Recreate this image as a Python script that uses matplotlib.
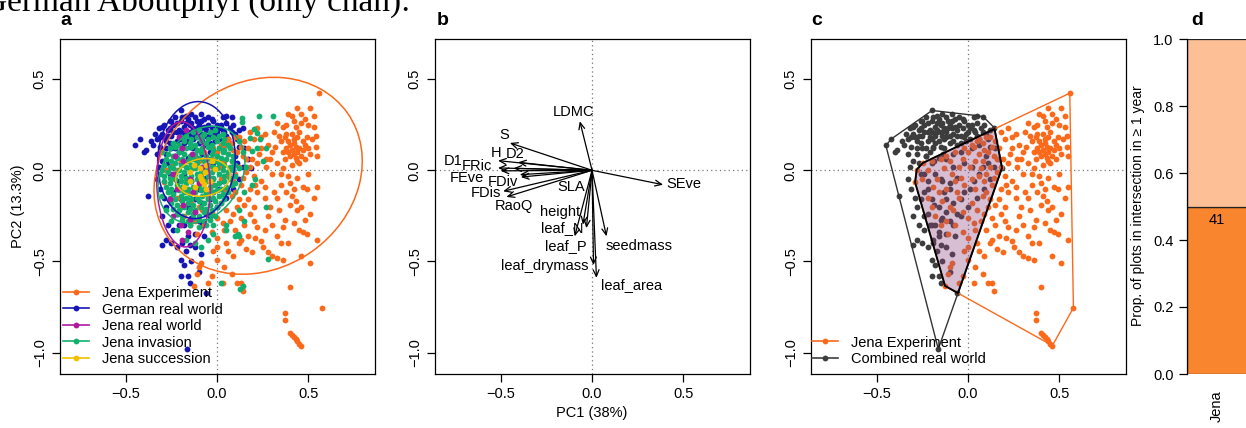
import numpy as np
import matplotlib
matplotlib.use("Agg")
import matplotlib.pyplot as plt
from matplotlib.patches import Ellipse, Polygon
from matplotlib.lines import Line2D

plt.rcParams["font.family"] = ["Liberation Sans", "DejaVu Sans"]
plt.rcParams["font.size"] = 10.5

W, H = 1246, 428

# ---- panel a / c : PCA site scores ----
jena_exp = [
    # right-hand cluster
    (0.557, 0.423), (0.44, 0.34), (0.51, 0.34), (0.39, 0.31), (0.41, 0.30), (0.46, 0.31), (0.53, 0.30), (0.48, 0.28),
    (0.33, 0.26), (0.36, 0.24), (0.43, 0.24), (0.50, 0.25), (0.53, 0.24), (0.31, 0.21), (0.38, 0.20), (0.45, 0.21),
    (0.54, 0.19), (0.49, 0.18), (0.42, 0.17), (0.35, 0.16), (0.40, 0.14), (0.43, 0.13), (0.45, 0.12), (0.41, 0.11),
    (0.39, 0.10), (0.44, 0.10), (0.47, 0.11), (0.42, 0.09), (0.40, 0.08), (0.46, 0.08), (0.43, 0.07), (0.38, 0.12),
    (0.48, 0.14), (0.50, 0.12), (0.54, 0.13), (0.55, 0.08), (0.37, 0.06), (0.45, 0.04), (0.41, 0.03), (0.33, 0.04),
    (0.30, 0.10), (0.28, 0.14), (0.26, 0.20), (0.24, 0.12), (0.27, 0.06), (0.36, 0.01), (0.39, -0.03), (0.40, -0.07),
    (0.42, -0.10), (0.38, -0.12), (0.41, -0.14), (0.43, -0.17), (0.40, -0.19), (0.47, -0.09), (0.49, -0.10), (0.55, -0.09),
    (0.46, -0.20), (0.44, -0.22), (0.51, -0.24), (0.35, -0.08), (0.33, -0.15), (0.30, -0.02), (0.31, -0.12), (0.29, -0.20),
    (0.45, -0.33), (0.47, -0.34), (0.49, -0.35), (0.55, -0.38), (0.51, -0.51), (0.46, -0.47), (0.40, -0.64),
    (0.37, -0.78), (0.37, -0.82), (0.40, -0.89), (0.41, -0.905), (0.42, -0.915), (0.43, -0.925), (0.44, -0.935),
    (0.45, -0.95), (0.462, -0.961), (0.577, -0.754),
    (0.37, 0.18), (0.41, 0.20), (0.44, 0.18), (0.47, 0.16), (0.39, 0.16), (0.42, 0.15), (0.36, 0.10), (0.44, 0.05),
    (0.48, 0.06), (0.51, 0.09), (0.52, 0.17), (0.46, 0.26), (0.42, 0.27), (0.38, 0.25), (0.34, 0.19), (0.32, 0.13),
    (0.29, 0.06), (0.35, -0.02), (0.44, -0.04), (0.50, -0.02), (0.53, -0.15), (0.48, -0.27), (0.37, -0.27), (0.34, -0.22),
    (0.36, -0.31), (0.42, -0.29),
    # lower middle
    (0.36, -0.49), (0.33, -0.48), (0.30, -0.47), (0.28, -0.45), (0.25, -0.42), (0.24, -0.39), (0.21, -0.37), (0.17, -0.36),
    (0.13, -0.38), (0.09, -0.47), (0.05, -0.40), (0.00, -0.37), (0.00, -0.42), (0.00, -0.49), (-0.09, -0.51), (-0.10, -0.53),
    (-0.11, -0.57), (-0.03, -0.58), (0.03, -0.62), (0.11, -0.62), (0.14, -0.66), (0.13, -0.62), (0.08, -0.57), (-0.05, -0.62),
    (0.04, -0.53), (0.20, -0.28), (0.22, -0.31), (0.26, -0.33), (0.18, -0.24), (0.15, -0.30), (0.10, -0.33), (0.07, -0.28),
    (0.04, -0.33), (0.12, -0.40), (0.16, -0.43), (0.19, -0.45), (0.06, -0.44), (-0.02, -0.44), (-0.126, -0.634),
    (0.30, -0.30), (0.28, -0.25), (0.33, -0.36), (0.35, -0.40), (0.39, -0.40),
    # central mass
    (0.05, 0.16), (0.08, 0.15), (0.10, 0.18), (0.12, 0.18), (0.15, 0.16), (0.18, 0.21), (0.20, 0.17), (0.22, 0.23),
    (0.11, 0.10), (0.14, 0.08), (0.17, 0.12), (0.19, 0.06), (0.22, 0.04), (0.08, 0.05), (0.12, 0.02), (0.16, -0.01),
    (0.20, -0.03), (0.24, -0.06), (0.06, -0.03), (0.09, -0.06), (0.13, -0.08), (0.18, -0.10), (0.22, -0.12), (0.26, -0.15),
    (0.04, -0.10), (0.08, -0.14), (0.12, -0.16), (0.15, -0.19), (0.20, -0.20), (0.02, -0.18), (0.05, -0.22), (0.09, -0.24),
    (0.13, -0.26), (0.00, -0.26), (0.03, -0.29), (-0.03, -0.23), (0.10, -0.12), (0.14, -0.04), (0.06, 0.09), (0.03, 0.13),
    (0.01, 0.02), (-0.02, -0.08), (-0.05, -0.15), (-0.08, -0.22), (-0.12, -0.28), (-0.15, -0.30), (-0.18, -0.25), (-0.22, -0.15),
    (-0.25, -0.05), (-0.29, -0.066), (-0.281, 0.004), (-0.248, 0.04), (-0.20, 0.05), (-0.15, 0.06), (-0.10, 0.05), (-0.05, 0.02),
    (0.00, 0.10), (-0.07, -0.06), (-0.12, -0.10), (-0.17, -0.05), (0.24, 0.18), (0.27, 0.02), (0.26, -0.09),
    (-0.22, 0.00), (-0.19, -0.09), (-0.14, -0.17), (-0.10, -0.20), (-0.06, -0.12), (-0.03, 0.06), (0.02, -0.05), (0.07, 0.01),
    (-0.13, 0.01), (-0.09, -0.02), (-0.04, -0.04), (0.04, 0.05), (-0.20, -0.20), (-0.16, -0.12), (-0.11, -0.35), (-0.07, -0.30),
    (-0.03, -0.34), (0.11, -0.20), (0.17, -0.16), (0.21, -0.08), (0.18, 0.02), (0.23, 0.09), (0.16, 0.06), (0.10, -0.02),
    (0.02, 0.14), (-0.02, 0.12), (-0.07, 0.10), (-0.12, 0.08), (0.06, 0.17), (0.13, 0.13), (0.09, 0.11),
]

german_real = [
    (-0.45, 0.136), (-0.42, 0.172), (-0.40, 0.10), (-0.39, 0.11), (-0.376, -0.143), (-0.35, 0.14), (-0.34, 0.20), (-0.33, 0.17),
    (-0.32, 0.23), (-0.31, 0.13), (-0.30, 0.20), (-0.29, 0.25), (-0.28, 0.16), (-0.27, 0.22), (-0.26, 0.27), (-0.25, 0.12),
    (-0.25, 0.19), (-0.24, 0.25), (-0.23, 0.29), (-0.22, 0.16), (-0.21, 0.22), (-0.20, 0.27), (-0.197, 0.328), (-0.19, 0.13),
    (-0.18, 0.19), (-0.18, 0.24), (-0.17, 0.30), (-0.16, 0.16), (-0.15, 0.21), (-0.14, 0.26), (-0.13, 0.12), (-0.12, 0.18),
    (-0.12, 0.29), (-0.11, 0.23), (-0.10, 0.15), (-0.09, 0.27), (-0.08, 0.20), (-0.07, 0.24), (-0.06, 0.14), (-0.05, 0.29),
    (-0.04, 0.19), (-0.03, 0.23), (-0.02, 0.27), (-0.01, 0.16), (0.00, 0.21), (0.02, 0.25), (0.03, 0.29), (0.048, 0.30),
    (0.05, 0.19), (0.07, 0.23), (0.084, 0.293), (0.10, 0.20), (0.12, 0.22), (0.144, 0.233), (0.15, 0.12), (0.17, 0.06),
    (0.186, 0.013), (0.14, 0.02), (0.10, 0.08), (-0.28, 0.09), (-0.30, 0.05), (-0.32, 0.02), (-0.27, 0.04), (-0.23, 0.08),
    (-0.20, 0.04), (-0.16, 0.07), (-0.12, 0.06), (-0.08, 0.09), (-0.04, 0.10), (0.02, 0.12), (0.06, 0.14),
    (-0.36, 0.16), (-0.29, 0.18), (-0.26, 0.23), (-0.22, 0.21), (-0.20, 0.17), (-0.17, 0.26), (-0.14, 0.19), (-0.13, 0.23),
    (-0.10, 0.25), (-0.06, 0.22), (-0.02, 0.18), (0.01, 0.23), (0.04, 0.21), (-0.25, 0.27),
    (-0.33, 0.09), (-0.31, 0.18), (-0.30, 0.24), (-0.28, 0.12), (-0.27, 0.19), (-0.26, 0.15), (-0.24, 0.21), (-0.23, 0.12),
    (-0.22, 0.26), (-0.21, 0.10), (-0.20, 0.21), (-0.19, 0.29), (-0.18, 0.15), (-0.17, 0.21), (-0.16, 0.28), (-0.15, 0.13),
    (-0.15, 0.25), (-0.14, 0.31), (-0.13, 0.17), (-0.12, 0.21), (-0.11, 0.27), (-0.10, 0.19), (-0.09, 0.31), (-0.09, 0.23),
    (-0.08, 0.16), (-0.07, 0.28), (-0.06, 0.19), (-0.05, 0.25), (-0.04, 0.15), (-0.03, 0.28), (-0.01, 0.20), (0.00, 0.25),
    (0.01, 0.17), (0.03, 0.22), (0.05, 0.26), (0.06, 0.17), (0.08, 0.21), (0.09, 0.25), (0.11, 0.17), (0.12, 0.13),
    # lower part
    (-0.303, -0.41), (-0.28, -0.38), (-0.25, -0.40), (-0.22, -0.42), (-0.20, -0.49), (-0.19, -0.40), (-0.17, -0.44), (-0.15, -0.41),
    (-0.20, -0.58), (-0.16, -0.58), (-0.148, -0.62), (-0.163, -0.98), (-0.06, -0.674), (-0.27, -0.30), (-0.30, -0.25), (-0.28, -0.20),
    (-0.31, -0.10), (-0.33, -0.05), (-0.29, -0.15), (-0.24, -0.33), (-0.21, -0.30), (-0.12, -0.35), (-0.08, -0.30), (-0.04, -0.25),
    (0.00, -0.20), (0.05, -0.15), (0.09, -0.10), (0.12, -0.05),
    # under the invasion cloud
    (-0.26, -0.02), (-0.22, -0.06), (-0.18, -0.02), (-0.14, -0.06), (-0.10, -0.10), (-0.06, -0.04), (-0.02, -0.12), (0.03, -0.06),
    (-0.24, -0.12), (-0.20, -0.16), (-0.16, -0.20), (-0.12, -0.16), (-0.08, -0.18), (-0.04, -0.16), (0.01, -0.10), (0.06, -0.02),
    (-0.22, -0.24), (-0.18, -0.30), (-0.14, -0.26), (-0.10, -0.28), (-0.06, -0.24), (-0.16, -0.36), (-0.12, -0.42), (-0.09, -0.46),
    (-0.14, -0.50), (-0.10, -0.56), (-0.18, -0.52), (-0.07, -0.36), (0.02, 0.02), (-0.02, 0.04), (0.08, 0.02), (0.11, 0.04),
]

jena_real = [
    (-0.184, 0.053), (-0.139, 0.09), (-0.23, 0.077), (-0.10, -0.07), (-0.148, -0.05), (-0.257, -0.16), (-0.184, -0.19),
    (-0.12, -0.23), (-0.21, 0.18), (-0.17, 0.22), (-0.24, -0.02), (-0.13, -0.12), (-0.20, -0.30), (-0.16, -0.34),
    (-0.22, -0.10), (-0.08, 0.02), (-0.19, 0.12), (-0.15, -0.27), (-0.24, -0.25), (-0.19, -0.38),
]

jena_invasion = [
    (-0.13, 0.21), (-0.10, 0.22), (-0.07, 0.20), (-0.04, 0.21), (-0.01, 0.22), (0.03, 0.20),
    (-0.20, 0.18), (-0.17, 0.19), (-0.14, 0.17), (-0.11, 0.18), (-0.08, 0.19), (-0.05, 0.17), (-0.02, 0.18), (0.01, 0.19), (0.04, 0.17),
    (-0.24, 0.15), (-0.21, 0.14), (-0.18, 0.16), (-0.15, 0.15), (-0.12, 0.14), (-0.09, 0.16), (-0.06, 0.15), (-0.03, 0.14),
    (0.00, 0.16), (0.03, 0.15), (0.06, 0.14),
    (-0.26, 0.12), (-0.23, 0.13), (-0.20, 0.11), (-0.17, 0.12), (-0.14, 0.13), (-0.11, 0.11), (-0.08, 0.12), (-0.05, 0.13),
    (-0.02, 0.11), (0.01, 0.12), (0.04, 0.11), (0.07, 0.12),
    (-0.27, 0.09), (-0.24, 0.08), (-0.21, 0.10), (-0.18, 0.09), (-0.15, 0.08), (-0.12, 0.09), (-0.09, 0.10), (-0.06, 0.08),
    (-0.03, 0.09), (0.00, 0.08), (0.03, 0.10), (0.06, 0.09), (0.09, 0.08),
    (-0.28, 0.06), (-0.25, 0.05), (-0.22, 0.07), (-0.19, 0.06), (-0.16, 0.05), (-0.13, 0.06), (-0.10, 0.07), (-0.07, 0.05),
    (-0.04, 0.06), (-0.01, 0.05), (0.02, 0.07), (0.05, 0.06), (0.08, 0.05),
    (-0.29, 0.03), (-0.26, 0.02), (-0.23, 0.04), (-0.20, 0.03), (-0.17, 0.02), (-0.14, 0.03), (-0.11, 0.04), (-0.08, 0.02),
    (-0.05, 0.03), (-0.02, 0.02), (0.01, 0.04), (0.04, 0.03), (0.07, 0.02), (0.10, 0.03),
    (-0.30, 0.00), (-0.27, -0.01), (-0.24, 0.01), (-0.21, 0.00), (-0.18, -0.01), (-0.15, 0.00), (-0.12, 0.01), (-0.09, -0.01),
    (-0.06, 0.00), (-0.03, -0.01), (0.00, 0.01), (0.03, 0.00), (0.06, -0.01), (0.09, 0.00), (0.12, 0.01),
    (-0.29, -0.03), (-0.26, -0.04), (-0.23, -0.02), (-0.20, -0.03), (-0.17, -0.04), (-0.14, -0.03), (-0.11, -0.02), (-0.08, -0.04),
    (-0.05, -0.03), (-0.02, -0.04), (0.01, -0.02), (0.04, -0.03), (0.07, -0.04), (0.10, -0.03),
    (-0.29, -0.06), (-0.26, -0.07), (-0.23, -0.05), (-0.20, -0.06), (-0.17, -0.07), (-0.14, -0.06), (-0.11, -0.05), (-0.08, -0.07),
    (-0.05, -0.06), (-0.02, -0.05), (0.01, -0.07), (0.04, -0.06), (0.07, -0.05), (0.10, -0.07),
    (-0.28, -0.09), (-0.25, -0.10), (-0.22, -0.08), (-0.19, -0.09), (-0.16, -0.10), (-0.13, -0.09), (-0.10, -0.08), (-0.07, -0.10),
    (-0.04, -0.09), (-0.01, -0.08), (0.02, -0.10), (0.05, -0.09), (0.08, -0.08),
    (-0.27, -0.12), (-0.24, -0.13), (-0.21, -0.11), (-0.18, -0.12), (-0.15, -0.13), (-0.12, -0.12), (-0.09, -0.11), (-0.06, -0.13),
    (-0.03, -0.12), (0.00, -0.11), (0.03, -0.13), (0.06, -0.12),
    (-0.26, -0.15), (-0.23, -0.16), (-0.20, -0.14), (-0.17, -0.15), (-0.14, -0.16), (-0.11, -0.15), (-0.08, -0.14), (-0.05, -0.16),
    (-0.02, -0.15), (0.01, -0.14), (0.04, -0.16),
    (-0.25, -0.18), (-0.22, -0.19), (-0.19, -0.17), (-0.16, -0.18), (-0.13, -0.19), (-0.10, -0.17), (-0.07, -0.18), (-0.04, -0.19),
    (-0.01, -0.17), (0.02, -0.18),
    (-0.24, -0.21), (-0.21, -0.22), (-0.18, -0.20), (-0.15, -0.21), (-0.12, -0.22), (-0.09, -0.20), (-0.06, -0.21), (-0.03, -0.22),
    (0.00, -0.20),
    (-0.22, -0.24), (-0.19, -0.25), (-0.16, -0.23), (-0.13, -0.24), (-0.10, -0.25), (-0.07, -0.23), (-0.04, -0.24), (-0.01, -0.25),
    (-0.19, -0.27), (-0.16, -0.28), (-0.13, -0.26), (-0.10, -0.27), (-0.07, -0.28), (-0.04, -0.27),
    (-0.15, -0.30), (-0.10, -0.31), (-0.06, -0.30),
    # scattered outside the main cloud
    (0.305, 0.297), (0.23, 0.297), (0.135, 0.288), (0.135, 0.264), (0.20, 0.224), (0.217, 0.205), (0.18, 0.178), (0.235, 0.169),
    (0.27, 0.123), (0.217, 0.123), (0.19, 0.104), (0.25, 0.05), (0.208, -0.05), (0.19, -0.08), (0.268, -0.20), (0.28, -0.485),
    (0.126, -0.652), (0.14, -0.637), (0.02, -0.62), (-0.02, -0.30), (0.048, -0.30), (0.113, -0.35), (-0.09, -0.42), (0.122, -0.363),
    (0.10, -0.36), (-0.02, -0.35), (0.15, -0.28), (0.12, -0.22), (0.15, -0.12), (0.16, 0.02), (0.14, 0.10), (0.12, 0.16),
    (-0.30, 0.10), (-0.31, -0.02), (-0.30, -0.14), (-0.28, -0.22), (-0.25, -0.28), (-0.22, -0.33), (-0.17, -0.38), (-0.12, -0.40),
    (-0.05, -0.38), (0.05, -0.33),
]

jena_succession = [
    (-0.15, -0.01), (-0.093, 0.013), (-0.066, -0.009), (-0.011, 0.008), (-0.095, -0.03), (-0.086, -0.045), (-0.08, -0.06),
    (-0.072, -0.075), (-0.147, -0.057), (-0.125, 0.03), (-0.04, -0.06), (-0.18, -0.09), (-0.03, 0.05), (-0.12, -0.09),
    (-0.06, 0.03), (-0.06, -0.10),
]

group_names = ["Jena Experiment", "German real world", "Jena real world", "Jena invasion", "Jena succession"]
group_colors = ["#FB6A1A", "#1616B4", "#B0189E", "#12B06E", "#F2C000"]

# data ellipses (centre, axes, angle)
ell_cx = [0.225, -0.113, -0.184, -0.085, -0.077]
ell_cy = [-0.03, 0.056, -0.077, -0.024, -0.039]
ell_w = [1.196, 0.424, 0.292, 0.57, 0.30]
ell_h = [1.018, 0.642, 0.687, 0.43, 0.205]
ell_ang = [35, -3, 2, 57, 8]

# ---- panel b : trait loadings ----
trait_names = ["LDMC", "S", "H", "D2", "D1", "FRic", "FEve", "FDiv", "SLA", "FDis", "RaoQ",
               "height", "leaf_N", "leaf_P", "leaf_drymass", "leaf_area", "seedmass", "SEve"]
load_pc1 = [-0.067, -0.45, -0.515, -0.405, -0.515, -0.43, -0.50, -0.396, -0.39, -0.487, -0.469,
            -0.05, -0.031, -0.095, 0.008, 0.024, 0.079, 0.389]
load_pc2 = [0.269, 0.15, 0.053, 0.044, 0.013, 0.011, -0.003, -0.024, -0.037, -0.115, -0.146,
            -0.298, -0.317, -0.362, -0.52, -0.59, -0.362, -0.079]
lab_x = [-0.102, -0.48, -0.527, -0.42, -0.761, -0.633, -0.686, -0.487, -0.113, -0.582, -0.427,
         -0.177, -0.164, -0.146, -0.259, 0.219, 0.256, 0.50]
lab_y = [0.319, 0.196, 0.095, 0.09, 0.053, 0.024, -0.04, -0.062, -0.09, -0.126, -0.196,
         -0.229, -0.319, -0.414, -0.527, -0.63, -0.414, -0.075]

# ---- panel d ----
d_groups = ["Jena"]
d_prop_in = [0.5]
d_n = [41]
d_dark = "#F9852E"
d_light = "#FDBF96"


def convex_hull(points):
    pts = sorted(set(points))

    def cross(o, a, b):
        return (a[0] - o[0]) * (b[1] - o[1]) - (a[1] - o[1]) * (b[0] - o[0])

    lower, upper = [], []
    for p in pts:
        while len(lower) >= 2 and cross(lower[-2], lower[-1], p) <= 0:
            lower.pop()
        lower.append(p)
    for p in reversed(pts):
        while len(upper) >= 2 and cross(upper[-2], upper[-1], p) <= 0:
            upper.pop()
        upper.append(p)
    return lower[:-1] + upper[:-1]


def clip_polygon(subject, clipper):
    # Sutherland-Hodgman, clipper convex and counter-clockwise
    def inside(p, a, b):
        return (b[0] - a[0]) * (p[1] - a[1]) - (b[1] - a[1]) * (p[0] - a[0]) >= 0

    def cut(p, q, a, b):
        x1, y1 = p
        x2, y2 = q
        x3, y3 = a
        x4, y4 = b
        d = (x1 - x2) * (y3 - y4) - (y1 - y2) * (x3 - x4)
        t = ((x1 - x3) * (y3 - y4) - (y1 - y3) * (x3 - x4)) / d
        return (x1 + t * (x2 - x1), y1 + t * (y2 - y1))

    out = list(subject)
    for i in range(len(clipper)):
        a, b = clipper[i], clipper[(i + 1) % len(clipper)]
        inp, out = out, []
        for j in range(len(inp)):
            p, q = inp[j - 1], inp[j]
            if inside(q, a, b):
                if not inside(p, a, b):
                    out.append(cut(p, q, a, b))
                out.append(q)
            elif inside(p, a, b):
                out.append(cut(p, q, a, b))
    return out


def xy(points):
    arr = np.array(points)
    return arr[:, 0], arr[:, 1]


def add_axes_px(left, right, top, bottom):
    return fig.add_axes([left / W, 1 - bottom / H, (right - left) / W, (bottom - top) / H])


def style_pc(ax):
    ax.set_xlim(-0.86, 0.865)
    ax.set_ylim(-1.117, 0.72)
    ax.set_xticks([-0.5, 0.0, 0.5])
    ax.set_xticklabels(["\u22120.5", "0.0", "0.5"])
    ax.set_yticks([0.5, 0.0, -0.5, -1.0])
    ax.set_yticklabels(["0.5", "0.0", "\u22120.5", "\u22121.0"], rotation=90, va="center")
    ax.tick_params(direction="out", length=5.5, width=0.9, pad=4, colors="black")
    for s in ax.spines.values():
        s.set_linewidth(0.9)
    ax.axhline(0, color="#777777", lw=0.9, ls=(0, (1, 2.5)), zorder=0.5)
    ax.axvline(0, color="#777777", lw=0.9, ls=(0, (1, 2.5)), zorder=0.5)


MS = 4.2
fig = plt.figure(figsize=(W / 100, H / 100), dpi=100)

# ---------------- panel a ----------------
ax_a = add_axes_px(60, 375, 39, 374)
style_pc(ax_a)
groups = [jena_exp, german_real, jena_real, jena_invasion, jena_succession]
draw_order = [1, 0, 3, 2, 4]
for k in draw_order:
    gx, gy = xy(groups[k])
    ax_a.plot(gx, gy, "o", ms=MS, mew=0, color=group_colors[k], zorder=2)
for k in range(5):
    ax_a.add_patch(Ellipse((ell_cx[k], ell_cy[k]), ell_w[k], ell_h[k], angle=ell_ang[k],
                           fill=False, ec=group_colors[k], lw=1.1, zorder=3))
handles = [Line2D([], [], color=c, marker="o", ms=MS, mew=0, lw=1.2) for c in group_colors]
ax_a.legend(handles, group_names, loc="lower left", bbox_to_anchor=(3 / 315, 8 / 335), frameon=False,
            borderpad=0, borderaxespad=0, handlelength=1.8, handletextpad=0.85, labelspacing=0.17, numpoints=1)

# ---------------- panel b ----------------
ax_b = add_axes_px(435, 750, 39, 374)
style_pc(ax_b)
for i in range(len(trait_names)):
    ax_b.annotate("", xy=(load_pc1[i], load_pc2[i]), xytext=(0, 0),
                  arrowprops=dict(arrowstyle="->,head_length=0.45,head_width=0.2", lw=0.9,
                                  color="black", shrinkA=0, shrinkB=0))
    ax_b.text(lab_x[i], lab_y[i], trait_names[i], ha="center", va="center")

# ---------------- panel c ----------------
ax_c = add_axes_px(811, 1126, 39, 374)
style_pc(ax_c)
combined = german_real + jena_real
cx, cy = xy(combined)
ex, ey = xy(jena_exp)
ax_c.plot(cx, cy, "o", ms=MS, mew=0, color="#3D3D3D", zorder=2)
ax_c.plot(ex, ey, "o", ms=MS, mew=0, color=group_colors[0], zorder=2)
hull_real = convex_hull(combined)
hull_exp = convex_hull(jena_exp)
ax_c.add_patch(Polygon(hull_real, closed=True, fill=False, ec="#333333", lw=1.0, zorder=3))
ax_c.add_patch(Polygon(hull_exp, closed=True, fill=False, ec=group_colors[0], lw=1.0, zorder=3))
overlap = clip_polygon(hull_real, hull_exp)
ax_c.add_patch(Polygon(overlap, closed=True, fc="#8D457E", alpha=0.35, ec="none", zorder=4))
ax_c.add_patch(Polygon(overlap, closed=True, fill=False, ec="black", lw=1.4, zorder=5))
handles_c = [Line2D([], [], color=group_colors[0], marker="o", ms=MS, mew=0, lw=1.2),
             Line2D([], [], color="#3D3D3D", marker="o", ms=MS, mew=0, lw=1.2)]
ax_c.legend(handles_c, ["Jena Experiment", "Combined real world"], loc="lower left",
            bbox_to_anchor=(1 / 315, 8 / 335), frameon=False, borderpad=0, borderaxespad=0,
            handlelength=1.8, handletextpad=0.85, labelspacing=0.17, numpoints=1)

# ---------------- panel d ----------------
ax_d = add_axes_px(1187, 1427, 39, 374)
for i, g in enumerate(d_groups):
    ax_d.bar(i + 0.5, d_prop_in[i], width=1.0, bottom=0, color=d_dark, ec="#222222", lw=0.9)
    ax_d.bar(i + 0.5, 1 - d_prop_in[i], width=1.0, bottom=d_prop_in[i], color=d_light, ec="#222222", lw=0.9)
    ax_d.text(i + 0.5, d_prop_in[i] - 0.04, str(d_n[i]), ha="center", va="center")
ax_d.set_xlim(0, 4)
ax_d.set_ylim(0, 1)
for s in ["top", "right", "bottom"]:
    ax_d.spines[s].set_visible(False)
ax_d.spines["left"].set_linewidth(0.9)
ax_d.set_yticks([0, 0.2, 0.4, 0.6, 0.8, 1.0])
ax_d.set_yticklabels(["0.0", "0.2", "0.4", "0.6", "0.8", "1.0"])
ax_d.set_xticks([i + 0.5 for i in range(len(d_groups))])
ax_d.set_xticklabels(d_groups, rotation=90, va="top")
ax_d.tick_params(axis="y", direction="out", length=5.8, width=0.9, pad=4)
ax_d.tick_params(axis="x", length=0, pad=12)

# ---------------- texts ----------------
fig.text(410 / W, 1 - 11 / H, "German Aboutphyl (only chan):", ha="right", va="baseline",
         family=["Liberation Serif", "DejaVu Serif"], size=24)
for lab, px in [("a", 60), ("b", 437), ("c", 811), ("d", 1191)]:
    fig.text(px / W, 1 - 25 / H, lab, weight="bold", size=14, ha="left", va="baseline")
fig.text(18 / W, 1 - 206 / H, "PC2 (13.3%)", rotation=90, ha="center", va="center")
fig.text(592 / W, 1 - 413 / H, "PC1 (38%)", ha="center", va="center")
fig.text(1138 / W, 1 - 206 / H, "Prop. of plots in intersection in \u2265 1 year", rotation=90,
         ha="center", va="center", size=10)

fig.savefig("out.png", dpi=100)
